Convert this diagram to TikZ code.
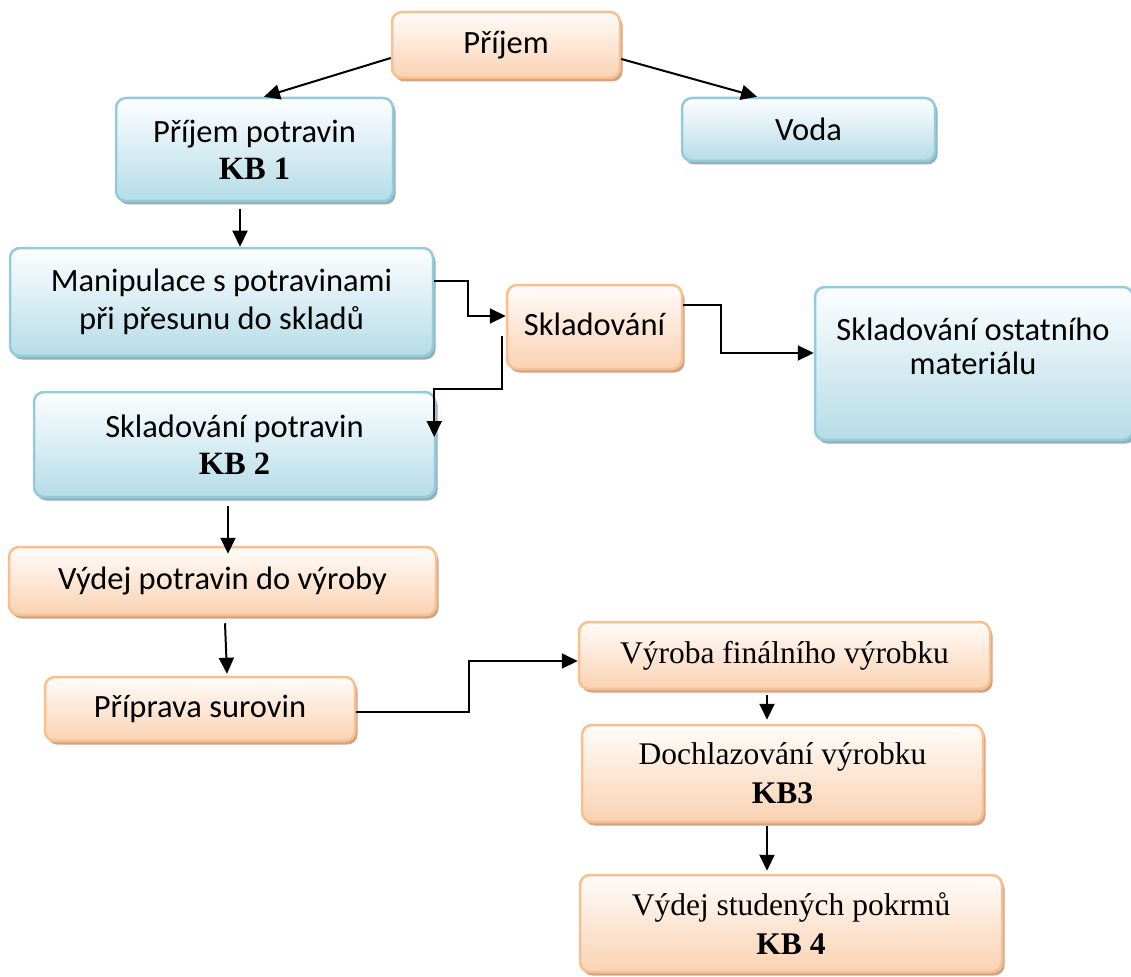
\documentclass[tikz,border=0pt]{standalone}
\usepackage{fontspec}
\newfontfamily\carl{Carlito}
\newfontfamily\tmsf{Liberation Serif}
\usetikzlibrary{shadows,arrows.meta,calc}
\definecolor{oB}{HTML}{F8C08F}
\definecolor{oT}{HTML}{FFFCFA}
\definecolor{oF}{HTML}{FAD2B2}
\definecolor{oS}{HTML}{CFA387}
\definecolor{bB}{HTML}{92CCDC}
\definecolor{bT}{HTML}{FDFEFF}
\definecolor{bF}{HTML}{B5DCE7}
\definecolor{bS}{HTML}{93AFB8}
\tikzset{
  base/.style={rounded corners=10pt, line width=2.5pt, inner sep=0pt, align=center,
    font=\carl\fontsize{32.5}{38}\selectfont},
  obox/.style={base, draw=oB, top color=oT, bottom color=oF,
    drop shadow={shadow xshift=2.5pt, shadow yshift=-3.5pt, fill=oS, opacity=1}},
  bbox/.style={base, draw=bB, top color=bT, bottom color=bF,
    drop shadow={shadow xshift=2.5pt, shadow yshift=-3.5pt, fill=bS, opacity=1}},
  serif/.style={font=\tmsf\fontsize{31.5}{39}\selectfont},
  txt/.style={inner sep=0pt, align=center, font=\carl\fontsize{32.5}{34}\selectfont},
  arr/.style={line width=2pt, -{Triangle[length=16pt,width=15pt]}},
}
\begin{document}
\begin{tikzpicture}[x=1pt,y=-1pt]
\useasboundingbox (0,0) rectangle (1131,976);
% boxes
\node[obox, minimum width=228pt, minimum height=66pt] (pr) at (506,45) {Příjem};
\node[bbox, minimum width=277pt, minimum height=103pt] (pp) at (254.5,149.5)
  {Příjem potravin\\[-1pt]{\tmsf\bfseries KB 1}};
\node[bbox, minimum width=253pt, minimum height=63pt] (voda) at (808.5,129.5) {Voda};
\node[bbox, minimum width=423pt, minimum height=108pt] (man) at (221.5,302)
  {Manipulace s potravinami\\při přesunu do skladů};
\node[obox, minimum width=175pt, minimum height=84pt] (skl) at (594.5,327) {\raisebox{5pt}{Skladování}};
\node[bbox, minimum width=318pt, minimum height=153pt] (ost) at (974,363.5) {};
\node[txt] (ost-t) at (973,346) {Skladování ostatního\\materiálu};
\node[bbox, minimum width=401pt, minimum height=105pt] (sp) at (234.5,444.5)
  {Skladování potravin\\[-1pt]{\tmsf\bfseries KB 2}};
\node[obox, minimum width=427pt, minimum height=68pt] (vyd) at (222.5,581) {Výdej potravin do výroby};
\node[obox, minimum width=310pt, minimum height=64pt] (prip) at (200,709) {Příprava surovin};
\node[obox, serif, minimum width=411pt, minimum height=67pt] (vyr) at (784.5,655.5) {Výroba finálního výrobku};
\node[obox, serif, minimum width=401pt, minimum height=97pt] (doch) at (782.5,773.5)
  {Dochlazování výrobku\\{\bfseries KB3}};
\node[obox, serif, minimum width=422pt, minimum height=97pt] (stud) at (791,923.5)
  {Výdej studených pokrmů\\{\bfseries KB 4}};
% connectors
\draw[arr] ([yshift=-13pt]pr.west) -- ([xshift=9.5pt]pp.north);
\draw[arr] ([yshift=-14pt]pr.east) -- ([xshift=-51.5pt]voda.north);
\draw[arr] ([xshift=-14.5pt,yshift=-7pt]pp.south) -- ([xshift=-14.5pt]pp.south |- man.north);
\draw[arr] ([yshift=21pt]man.east) -- ++(34,0) |- ([yshift=11pt]skl.west);
\draw[arr] ([xshift=-4pt,yshift=-9pt]skl.west) |- ($(sp.east)+(-2,-55.5)$)
  -- ([xshift=-2pt,yshift=7.5pt]sp.east);
\draw[arr] ([yshift=22pt]skl.east) -- ++(38,0) |- ([yshift=10.5pt]ost.west);
\draw[arr] ([xshift=-6.5pt,yshift=-8pt]sp.south) -- ([xshift=-6.5pt,yshift=-8pt]sp.south |- vyd.north);
\draw[arr] ([xshift=2.5pt,yshift=-7pt]vyd.south) -- ([xshift=27pt,yshift=2pt]prip.north);
\draw[arr] ([yshift=-3pt]prip.east) -- ++(113,0) |- ([yshift=-5.5pt]vyr.west);
\draw[arr] ([xshift=-17.5pt,yshift=-5pt]vyr.south) -- ([xshift=-17.5pt,yshift=4pt]vyr.south |- doch.north);
\draw[arr] ([xshift=-15.5pt,yshift=-3pt]doch.south) -- ([xshift=-15.5pt,yshift=3pt]doch.south |- stud.north);
\end{tikzpicture}
\end{document}
